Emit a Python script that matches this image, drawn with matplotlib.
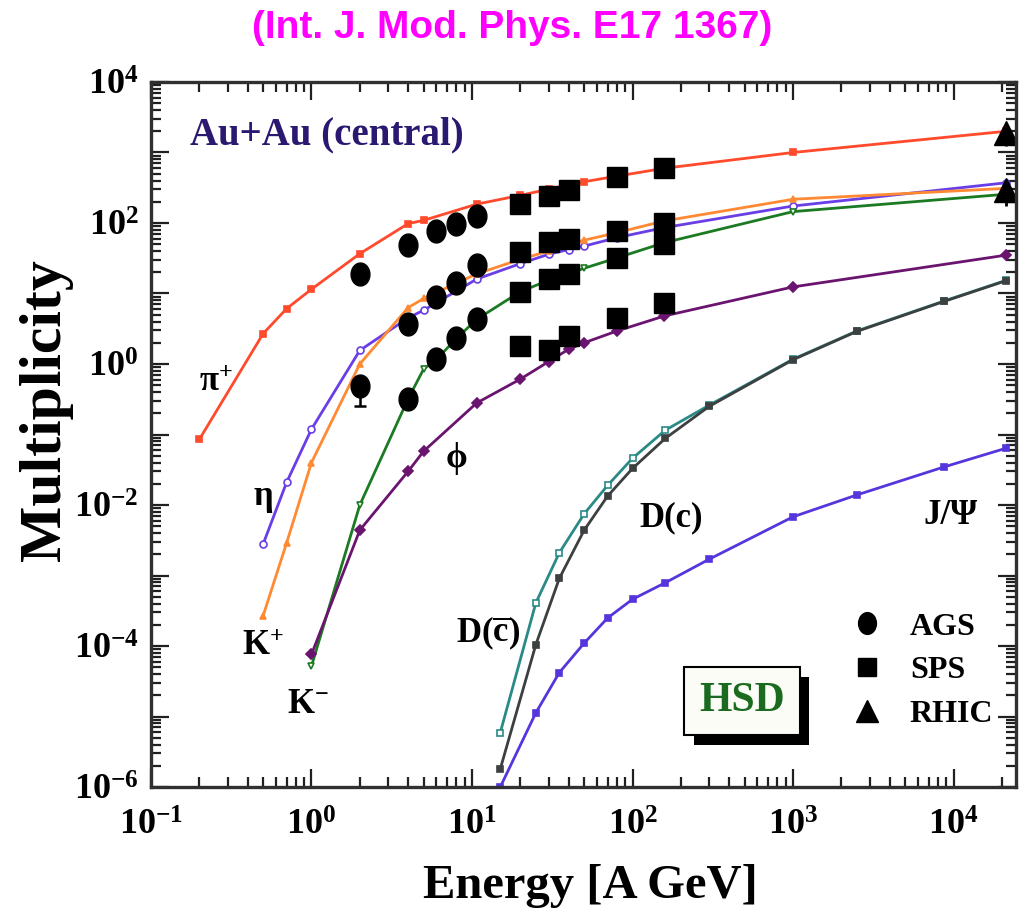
import numpy as np
import matplotlib
matplotlib.use('Agg')
import matplotlib.pyplot as plt
from matplotlib import ticker
from matplotlib.path import Path
from matplotlib.transforms import Affine2D
import matplotlib.patheffects as pe

plt.rcParams['font.family'] = ['Liberation Serif', 'DejaVu Serif']
plt.rcParams['font.weight'] = 'bold'
plt.rcParams['mathtext.fontset'] = 'custom'
plt.rcParams['mathtext.rm'] = 'Liberation Serif:bold'
plt.rcParams['mathtext.it'] = 'Liberation Serif:bold'
plt.rcParams['mathtext.bf'] = 'Liberation Serif:bold'
plt.rcParams['mathtext.default'] = 'rm'

# HSD model curves (energy in A GeV)
E_pi = [0.2, 0.5, 0.7, 1, 2, 4, 5, 10.7, 20, 30, 40, 50, 80, 158, 1000, 21300]
pi_plus = [0.085, 2.7, 6.1, 11.5, 36.7, 98, 109, 185, 247, 301, 347, 385, 462, 597, 1000, 2000]

E_eta = [0.5, 0.7, 1, 2, 4, 5, 10.7, 20, 30, 40, 50, 80, 158, 1000, 21300]
eta = [0.0028, 0.021, 0.119, 1.56, 4.5, 5.8, 16, 26.5, 36, 42, 47, 62, 86, 174, 372]

E_kp = [0.5, 0.7, 1, 2, 4, 5, 10.7, 20, 30, 40, 50, 80, 158, 1000, 21300]
k_plus = [2.7e-4, 0.0029, 0.04, 1.0, 6.3, 8.5, 19, 30.5, 40, 50, 57, 73, 107, 217, 310]

E_km = [1, 2, 4, 5, 6, 8, 10.7, 20, 30, 40, 50, 80, 158, 1000, 21300]
k_minus = [5.2e-5, 0.0100, 0.32, 0.85, 1.16, 2.3, 4.3, 10.6, 15.4, 19.1, 22.8, 32, 52.6, 145, 256]

E_phi = [1, 2, 4, 5, 10.7, 20, 30, 40, 50, 80, 158, 1000, 21300]
phi = [7.6e-5, 0.0044, 0.030, 0.058, 0.28, 0.61, 1.08, 1.62, 2.0, 2.94, 4.8, 12.4, 35]

E_charm = [15, 25, 35, 50, 70, 100, 160, 300, 1000, 2500, 8700, 21300]
d_cbar = [5.9e-6, 4.1e-4, 0.0021, 0.0075, 0.019, 0.046, 0.115, 0.26, 1.17, 2.94, 7.8, 15.4]
d_c = [1.8e-6, 1.05e-4, 9.1e-4, 0.0044, 0.0134, 0.033, 0.088, 0.25, 1.15, 2.9, 7.7, 15.2]
jpsi = [1.0e-6, 1.13e-5, 4.2e-5, 1.1e-4, 2.5e-4, 4.6e-4, 7.9e-4, 1.7e-3, 6.8e-3, 0.0139, 0.0346, 0.064]

# experimental data
E_ags = [2, 4, 6, 8, 10.7]
ags_pi = [19.1, 48.7, 77, 96, 125]
ags_kp = [0.49, 3.7, 8.9, 14.2, 25.4]
E_ags_km = [4, 6, 8, 10.7]
ags_km = [0.315, 1.17, 2.3, 4.3]

E_sps = [20, 30, 40, 80, 158]
sps_pi = [188, 242, 291, 448, 609]
sps_kp = [39, 54, 59, 77, 101]
sps_km = [10.6, 15.9, 19.1, 32, 50]
sps_phi = [1.8, 1.6, 2.5, 4.5, 7.4]

E_rhic = [21300, 21300]
rhic = [1900, 295]
rhic_err_lo = [650, 120]
rhic_err_hi = [300, 60]

# slightly tall ellipse, like the stretched dots of the original figure
ell = Path.unit_circle().transformed(Affine2D().scale(0.82, 1.0))

fig = plt.figure(figsize=(10.25, 9.16), dpi=100)
ax = fig.add_axes([0.1473, 0.1408, 0.8439, 0.7697])

curves = [
    (E_pi, pi_plus, '#ff4a2c', 's', '#ff4a2c'),
    (E_eta, eta, '#6a3ee6', 'o', 'white'),
    (E_kp, k_plus, '#ff8a33', '^', '#ff8a33'),
    (E_km, k_minus, '#1b7a22', 'v', 'white'),
    (E_phi, phi, '#6a1470', 'D', '#6a1470'),
    (E_charm, d_cbar, '#2a8a86', 's', 'white'),
    (E_charm, d_c, '#3c4040', 's', '#3c4040'),
    (E_charm, jpsi, '#5636dc', 's', '#5636dc'),
]
for e, v, c, m, fc in curves:
    ax.plot(e, v, '-', color=c, lw=2.0, marker=m, ms=5, mfc=fc, mec=c, mew=1.2)

h_ags, = ax.plot(E_ags, ags_pi, ls='none', marker=ell, color='black', ms=16.5, label='AGS')
ax.plot(E_ags, ags_kp, ls='none', marker=ell, color='black', ms=16.5)
ax.plot(E_ags_km, ags_km, ls='none', marker=ell, color='black', ms=16.5)
ax.errorbar([E_ags[0]], [ags_kp[0]], yerr=[[0.24], [0.1]], fmt='none',
            ecolor='black', elinewidth=1.8, capsize=4, capthick=1.8)

h_sps, = ax.plot(E_sps, sps_pi, 's', color='black', ms=14, label='SPS')
ax.plot(E_sps, sps_kp, 's', color='black', ms=14)
ax.plot(E_sps, sps_km, 's', color='black', ms=14)
ax.plot(E_sps, sps_phi, 's', color='black', ms=14)

ax.errorbar(E_rhic, rhic, yerr=[rhic_err_lo, rhic_err_hi], fmt='none',
            ecolor='black', elinewidth=2)
h_rhic, = ax.plot(E_rhic, rhic, '^', color='black', ms=17, label='RHIC')

ax.set_xscale('log')
ax.set_yscale('log')
ax.set_xlim(0.1, 2.45e4)
ax.set_ylim(1e-6, 1e4)

ax.xaxis.set_major_locator(ticker.LogLocator(base=10, numticks=20))
ax.xaxis.set_minor_locator(ticker.LogLocator(base=10, subs=np.arange(2, 10), numticks=100))
ax.yaxis.set_major_locator(ticker.LogLocator(base=10, numticks=30))
ax.yaxis.set_minor_locator(ticker.LogLocator(base=10, subs=np.arange(2, 10), numticks=100))
ax.xaxis.set_minor_formatter(ticker.NullFormatter())
ax.yaxis.set_minor_formatter(ticker.NullFormatter())


def fmt_x(v, pos):
    return r'$10^{%d}$' % int(round(np.log10(v)))


def fmt_y(v, pos):
    k = int(round(np.log10(v)))
    return r'$10^{%d}$' % k if k % 2 == 0 else ''


ax.xaxis.set_major_formatter(ticker.FuncFormatter(fmt_x))
ax.yaxis.set_major_formatter(ticker.FuncFormatter(fmt_y))

ax.tick_params(which='both', direction='in', top=True, right=True, width=1.6, color='#202020')
ax.tick_params(which='major', length=13)
ax.tick_params(which='minor', length=7)
ax.tick_params(axis='x', which='major', pad=16, labelsize=26)
ax.tick_params(axis='y', which='major', pad=9, labelsize=26)
for s in ax.spines.values():
    s.set_linewidth(2.4)
    s.set_color('#303030')

fig.text(0.045, 0.552, 'Multiplicity', rotation=90, ha='center', va='center', fontsize=43)
fig.text(0.576, 0.033, 'Energy [A GeV]', ha='center', va='center', fontsize=35)
fig.text(0.5, 0.969, '(Int. J. Mod. Phys. E17 1367)', ha='center', va='center',
         fontsize=28, color='#ff00ff', family=['Liberation Sans'], weight='bold')

ax.text(0.045, 0.925, 'Au+Au (central)', transform=ax.transAxes, ha='left', va='center',
        fontsize=28, color='#2b1870')

lab = dict(fontsize=25, ha='left', va='center', color='black')
ax.text(0.2, 0.55, r'$\pi^{+}$', **lab)
ax.text(0.43, 0.0125, r'$\eta$', **lab)
ax.text(0.37, 1.0e-4, r'$\mathrm{K}^{+}$', **lab)
ax.text(0.70, 1.5e-5, r'$\mathrm{K}^{-}$', **lab)
ax.text(6.8, 0.045, r'$\phi$', **lab)
ax.text(7.9, 1.5e-4, r'$\mathrm{D(\overline{c})}$', **lab)
ax.text(110, 0.0066, 'D(c)', **lab)
ax.text(6500, 0.0072, 'J/Ψ', **lab)

t = ax.text(0.683, 0.122, 'HSD', transform=ax.transAxes, ha='center', va='center',
            fontsize=30, color='#1a6b1f',
            bbox=dict(boxstyle='square,pad=0.36', fc='#fcfcf6', ec='black', lw=1.5))
t.get_bbox_patch().set_path_effects([pe.SimplePatchShadow(offset=(7, -7), shadow_rgbFace='black', alpha=1.0),
                                     pe.Normal()])

ax.legend(handles=[h_ags, h_sps, h_rhic], loc='upper left', bbox_to_anchor=(0.809, 0.248),
          frameon=False, fontsize=23, handlelength=1.0, handletextpad=0.85,
          labelspacing=0.45, borderpad=0, borderaxespad=0, markerscale=0.95)

fig.savefig('out.png', dpi=100)
